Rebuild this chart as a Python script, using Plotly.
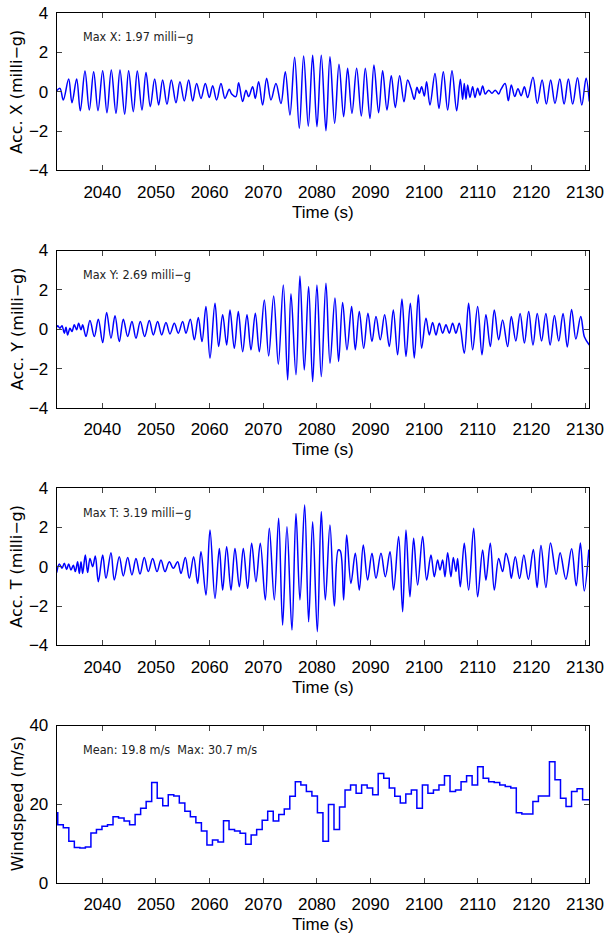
import plotly.graph_objects as go

# ---- data (local peaks / troughs of each record) ----
time_ticks = [2040, 2050, 2060, 2070, 2080, 2090, 2100, 2110, 2120, 2130]
acc_ticks = [-4, -2, 0, 2, 4]
wind_ticks = [0, 20, 40]
x_range = [2031.5, 2130.8]

acc_x_t = [2031.5, 2032.11, 2032.73, 2033.73, 2034.35, 2035.22, 2035.90, 2036.77, 2037.58, 2038.39,
           2039.20, 2040.07, 2040.87, 2041.68, 2042.55, 2043.30, 2044.17, 2044.91, 2045.78, 2046.53,
           2047.40, 2048.15, 2048.95, 2049.76, 2050.51, 2051.25, 2052.06, 2052.87, 2053.74, 2054.48,
           2055.29, 2056.10, 2056.85, 2057.59, 2058.40, 2059.21, 2059.95, 2060.58, 2061.32, 2062.13,
           2062.87, 2063.68, 2064.12, 2064.9, 2065.42, 2066.17, 2066.79, 2067.29, 2068.03, 2068.53,
           2069.15, 2069.90, 2070.64, 2071.45, 2072.38, 2073.31, 2074.12, 2074.99, 2075.86, 2076.73,
           2077.54, 2078.41, 2079.22, 2080.02, 2080.83, 2081.70, 2082.45, 2083.32, 2084.13, 2085.00,
           2085.74, 2086.55, 2087.42, 2088.29, 2089.04, 2089.91, 2090.65, 2091.52, 2092.27, 2093.08,
           2093.88, 2094.63, 2095.44, 2096.25, 2096.93, 2097.55, 2098.17, 2098.67, 2099.10, 2099.54,
           2100.04, 2100.47, 2101.09, 2102.03, 2102.77, 2103.58, 2104.39, 2105.20, 2106.07, 2106.75,
           2107.18, 2107.49, 2107.81, 2108.12, 2108.55, 2109.05, 2109.48, 2109.98, 2110.42, 2110.91,
           2111.41, 2112.03, 2112.65, 2113.27, 2113.90, 2114.3, 2115.1, 2115.70, 2116.26, 2116.9,
           2117.5, 2118.1, 2118.7, 2119.3, 2120.3, 2121.1, 2122.0, 2122.8, 2123.6, 2124.4,
           2125.3, 2126.1, 2126.9, 2127.7, 2128.6, 2129.4, 2130.2, 2130.8]
acc_x_v = [0.05, 0.17, -0.42, 0.64, -0.56, 0.64, -0.97, 1.05, -0.93, 1.02,
           -0.97, 1.07, -1.07, 1.10, -1.10, 1.10, -1.14, 1.07, -1.02, 1.05,
           -0.93, 0.98, -0.76, 0.64, -0.68, 0.60, -0.64, 0.60, -0.56, 0.50,
           -0.47, 0.60, -0.47, 0.42, -0.34, 0.42, -0.30, 0.30, -0.42, 0.42,
           -0.34, 0.12, -0.12, -0.25, 0.46, -0.50, 0.08, -0.25, 0.25, -0.34,
           0.50, -0.68, 0.68, -0.42, 0.42, -0.60, 1.02, -1.19, 1.75, -1.86,
           1.81, -1.75, 1.85, -1.78, 1.85, -1.98, 1.78, -1.61, 1.39, -1.27,
           1.19, -1.10, 1.19, -1.24, 1.19, -1.36, 1.36, -1.07, 1.07, -0.93,
           0.81, -0.80, 0.81, -0.51, 0.59, 0.17, -0.39, 0.22, -0.08, 0.25,
           -0.22, 0.51, -0.68, 0.93, -0.85, 1.02, -0.93, 1.07, -0.97, 0.63,
           -0.39, 0.42, -0.39, 0.34, -0.29, 0.25, -0.29, 0.17, -0.17, 0.29,
           -0.12, 0.08, -0.08, 0.08, -0.12, 0.10, 0.42, -0.46, 0.34, -0.25,
           0.15, -0.20, 0.25, -0.30, 0.73, -0.60, 0.60, -0.63, 0.60, -0.60,
           0.64, -0.63, 0.64, -0.63, 0.71, -0.68, 0.68, -0.50]

acc_y_t = [2031.5, 2031.68, 2032.11, 2032.48, 2032.92, 2033.23, 2033.54, 2033.97, 2034.35, 2034.78,
           2035.22, 2035.59, 2036.03, 2036.34, 2036.96, 2037.70, 2038.51, 2039.26, 2040.07, 2040.81,
           2041.62, 2042.37, 2043.17, 2043.92, 2044.73, 2045.53, 2046.28, 2047.09, 2047.90, 2048.77,
           2049.51, 2050.32, 2051.07, 2051.87, 2052.62, 2053.43, 2054.17, 2054.98, 2055.60, 2056.41,
           2057.16, 2057.90, 2058.59, 2059.33, 2060.08, 2061.01, 2061.69, 2062.44, 2063.19, 2063.81,
           2064.62, 2065.36, 2066.17, 2066.98, 2067.72, 2068.53, 2069.28, 2070.21, 2071.02, 2071.95,
           2072.82, 2073.75, 2074.56, 2075.18, 2076.11, 2076.85, 2077.66, 2078.47, 2079.22, 2080.02,
           2080.83, 2081.70, 2082.45, 2083.38, 2084.06, 2084.81, 2085.62, 2086.49, 2087.17, 2087.92,
           2088.73, 2089.53, 2090.28, 2091.03, 2091.83, 2092.64, 2093.51, 2094.26, 2095.06, 2095.87,
           2096.62, 2097.43, 2098.17, 2098.92, 2099.54, 2100.35, 2100.97, 2101.59, 2102.21, 2102.83,
           2103.46, 2104.08, 2104.70, 2105.32, 2105.94, 2106.56, 2107.49, 2108.30, 2109.05, 2109.98,
           2110.79, 2111.53, 2112.34, 2113.09, 2113.90, 2114.64, 2115.57, 2116.26, 2117.1, 2117.9,
           2118.7, 2119.5, 2120.3, 2121.1, 2121.9, 2122.7, 2123.5, 2124.3, 2125.1, 2125.9,
           2126.7, 2127.5, 2128.3, 2129.2, 2129.9, 2130.8]
acc_y_v = [0.10, 0.17, 0.05, 0.17, -0.20, 0.10, -0.29, 0.05, -0.12, 0.22,
           -0.03, 0.30, -0.03, 0.22, -0.37, 0.44, -0.37, 0.51, -0.68, 0.85,
           -0.46, 0.68, -0.63, 0.51, -0.37, 0.39, -0.46, 0.39, -0.37, 0.44,
           -0.29, 0.39, -0.29, 0.34, -0.24, 0.30, -0.20, 0.39, -0.20, 0.51,
           -0.54, 0.59, -0.63, 1.15, -1.47, 1.32, -0.88, 0.73, -0.80, 0.98,
           -0.97, 0.90, -1.14, 0.73, -1.05, 0.81, -1.14, 1.49, -1.36, 1.69,
           -1.78, 2.25, -2.58, 1.80, -2.32, 2.71, -2.07, 2.17, -2.66, 2.25,
           -2.41, 2.34, -1.73, 1.58, -1.64, 1.36, -1.05, 1.15, -1.05, 0.90,
           -0.97, 0.81, -0.63, 0.64, -0.54, 0.73, -0.88, 0.98, -1.30, 1.53,
           -1.39, 1.32, -1.47, 1.75, -0.97, 0.56, -0.29, 0.34, -0.29, 0.30,
           -0.20, 0.22, -0.20, 0.30, -0.20, 0.30, -1.22, 1.32, -1.05, 1.15,
           -1.30, 0.73, -0.88, 0.98, -0.54, 0.47, -0.88, 0.64, -0.60, 0.80,
           -0.70, 0.90, -0.80, 0.80, -0.60, 0.80, -0.80, 0.70, -0.60, 0.80,
           -0.90, 1.00, -0.50, 0.65, -0.40, -0.80]

acc_t_t = [2031.5, 2031.99, 2032.48, 2032.92, 2033.35, 2033.73, 2034.16, 2034.60, 2034.97, 2035.40,
           2035.72, 2036.03, 2036.34, 2036.83, 2037.27, 2037.70, 2038.20, 2038.70, 2039.26, 2040.07,
           2040.69, 2041.62, 2042.24, 2043.17, 2043.92, 2044.73, 2045.53, 2046.28, 2047.03, 2047.83,
           2048.58, 2049.39, 2050.20, 2050.94, 2051.69, 2052.50, 2053.24, 2054.05, 2054.67, 2055.48,
           2056.22, 2057.03, 2057.78, 2058.40, 2059.33, 2060.08, 2061.01, 2061.82, 2062.44, 2063.19,
           2063.99, 2064.74, 2065.55, 2066.29, 2067.10, 2067.85, 2068.65, 2069.46, 2070.39, 2071.14,
           2072.07, 2072.88, 2073.62, 2074.43, 2075.36, 2076.11, 2076.85, 2077.73, 2078.47, 2079.22,
           2080.09, 2080.83, 2081.58, 2082.45, 2083.26, 2084.00, 2084.38, 2085.00, 2085.56, 2086.36,
           2087.17, 2087.92, 2088.66, 2089.47, 2090.28, 2091.03, 2091.96, 2092.77, 2093.64, 2094.32,
           2095.25, 2096.00, 2096.62, 2097.36, 2098.05, 2098.79, 2099.73, 2100.47, 2101.28, 2101.90,
           2102.52, 2102.96, 2103.46, 2103.89, 2104.39, 2105.01, 2105.44, 2105.94, 2106.25, 2106.75,
           2107.49, 2108.30, 2109.24, 2109.98, 2110.91, 2111.53, 2112.34, 2113.09, 2113.90, 2114.64,
           2115.26, 2115.89, 2116.26, 2117.0, 2117.8, 2118.6, 2119.43, 2120.36, 2121.07, 2121.79,
           2122.71, 2123.57, 2124.64, 2125.36, 2126.43, 2127.50, 2128.36, 2129.14, 2129.86, 2130.71]
acc_t_v = [-0.30, 0.14, -0.08, 0.17, -0.14, 0.14, -0.17, 0.08, -0.25, 0.25,
           -0.34, 0.25, -0.34, 0.59, -0.30, 0.42, 0.00, 0.54, -0.76, 0.59,
           -0.59, 0.71, -0.68, 0.51, -0.47, 0.47, -0.42, 0.42, -0.37, 0.47,
           -0.25, 0.42, -0.25, 0.34, -0.25, 0.25, -0.08, 0.25, -0.34, 0.47,
           -0.59, 0.51, -0.85, 0.76, -1.44, 1.86, -1.61, 0.93, -1.19, 1.02,
           -1.19, 0.93, -1.02, 0.93, -1.10, 1.19, -0.76, 1.19, -1.69, 1.95,
           -1.69, 2.46, -2.97, 2.03, -3.22, 2.71, -1.69, 3.14, -2.80, 2.29,
           -3.30, 2.80, -1.69, 2.12, -2.00, 0.85, 0.80, -1.69, 1.61, -0.85,
           0.68, -1.19, 1.10, -0.68, 0.68, -0.59, 0.68, -0.51, 0.76, -1.19,
           1.53, -2.29, 1.86, -1.53, 1.44, -0.93, 1.53, -0.68, 0.59, -0.51,
           0.34, -0.17, 0.34, -0.51, 0.71, -0.51, 0.47, -0.25, 0.42, -1.02,
           1.19, -1.19, 1.95, -1.53, 0.85, -0.68, 1.19, -1.19, 0.42, -0.25,
           0.68, 0.08, -0.59, 0.50, -0.60, 0.60, -0.64, 0.87, -1.06, 1.08,
           -1.06, 1.21, -0.39, 0.71, -0.64, 0.91, -0.97, 1.21, -1.23, 0.87]

# windspeed: step start times and the value held until the next step
wind_t = [2031.45,
          2031.70, 2032.73, 2033.76, 2034.79, 2035.82, 2036.85, 2037.88, 2038.91, 2039.94, 2040.97,
          2042.00, 2043.03, 2044.06, 2045.09, 2046.12, 2047.15, 2048.18, 2049.21, 2050.24, 2051.27,
          2052.30, 2053.33, 2054.36, 2055.39, 2056.42, 2057.45, 2058.48, 2059.51, 2060.54, 2061.57,
          2062.60, 2063.63, 2064.66, 2065.69, 2066.72, 2067.75, 2068.78, 2069.81, 2070.84, 2071.87,
          2072.90, 2073.93, 2074.96, 2075.99, 2077.02, 2078.05, 2079.08, 2080.11, 2081.14, 2082.17,
          2083.20, 2084.23, 2085.26, 2086.29, 2087.32, 2088.35, 2089.38, 2090.41, 2091.44, 2092.47,
          2093.50, 2094.53, 2095.56, 2096.59, 2097.62, 2098.65, 2099.68, 2100.71, 2101.74, 2102.77,
          2103.80, 2104.83, 2105.86, 2106.89, 2107.92, 2108.95, 2109.98, 2111.01, 2112.04, 2113.07,
          2114.10, 2115.13, 2116.16, 2117.19, 2118.22, 2119.25, 2120.28, 2121.31, 2122.34, 2123.37,
          2124.40, 2125.43, 2126.46, 2127.49, 2128.52, 2129.55, 2130.58,
          2130.8]
wind_v = [17.8,
          14.8, 14.0, 10.6, 9.0, 8.9, 9.1, 12.7, 13.6, 14.4, 14.8,
          16.8, 16.5, 15.7, 14.8, 17.4, 19.0, 20.7, 25.5, 21.5, 19.6,
          22.4, 22.1, 20.3, 18.2, 16.8, 15.3, 13.2, 9.6, 10.9, 10.4,
          15.8, 13.6, 13.2, 12.6, 9.8, 12.2, 13.6, 15.9, 18.2, 15.7,
          17.4, 18.8, 22.0, 25.7, 24.9, 23.2, 22.1, 17.8, 10.6, 19.9,
          13.6, 19.3, 23.6, 24.9, 22.8, 24.9, 24.1, 22.4, 27.8, 26.6,
          24.1, 22.0, 20.3, 22.6, 23.6, 19.0, 24.9, 22.8, 23.6, 24.9,
          27.2, 23.2, 23.6, 25.7, 27.2, 24.9, 29.5, 26.6, 25.7, 25.5,
          24.9, 24.5, 24.1, 17.8, 17.5, 17.5, 20.7, 22.1, 22.1, 30.8,
          26.2, 21.5, 19.4, 23.2, 23.9, 21.1, 21.1,
          21.1]

# (x, y, y title, info text, y range, y ticks, line shape)
panels = [
    (acc_x_t, acc_x_v, "Acc. X (milli\u2212g)", "Max X: 1.97 milli\u2212g", [-4, 4], acc_ticks, "spline"),
    (acc_y_t, acc_y_v, "Acc. Y (milli\u2212g)", "Max Y: 2.69 milli\u2212g", [-4, 4], acc_ticks, "spline"),
    (acc_t_t, acc_t_v, "Acc. T (milli\u2212g)", "Max T: 3.19 milli\u2212g", [-4, 4], acc_ticks, "spline"),
    (wind_t, wind_v, "Windspeed (m/s)", "Mean: 19.8 m/s  Max: 30.7 m/s", [0, 40], wind_ticks, "hv"),
]

W, H = 605, 940
left, right = 56.7, 589.3
tops = [13, 250.5, 488, 725.5]
ph = 157.4
tick_font = dict(family="Arial, Liberation Sans, sans-serif", size=17, color="black")

fig = go.Figure()
annotations = []
layout = dict(width=W, height=H, margin=dict(l=0, r=0, t=0, b=0, autoexpand=False),
              paper_bgcolor="white", plot_bgcolor="white", showlegend=False)

for i, (xs, ys, ytitle, info, yr, yt, shape) in enumerate(panels):
    n = i + 1
    sfx = "" if n == 1 else str(n)
    top, bot = tops[i], tops[i] + ph
    fig.add_trace(go.Scatter(x=xs, y=ys, mode="lines",
                             line=dict(color="#0000ff", width=1.5, shape=shape, smoothing=1.0),
                             xaxis="x" + sfx, yaxis="y" + sfx, hoverinfo="skip"))
    layout["xaxis" + sfx] = dict(domain=[left / W, right / W], anchor="y" + sfx,
                                 range=x_range, tickvals=time_ticks, ticks="inside", ticklen=5,
                                 showline=True, linecolor="black", linewidth=1, mirror="ticks",
                                 showgrid=False, zeroline=False, tickfont=tick_font,
                                 ticklabelstandoff=6, automargin=False)
    layout["yaxis" + sfx] = dict(domain=[1 - bot / H, 1 - top / H], anchor="x" + sfx,
                                 range=yr, tickvals=yt, ticks="inside", ticklen=5,
                                 showline=True, linecolor="black", linewidth=1, mirror="ticks",
                                 showgrid=False, zeroline=False, tickfont=tick_font,
                                 ticklabelstandoff=4, automargin=False)
    annotations.append(dict(text=ytitle, textangle=-90, x=17 / W, y=1 - (top + ph / 2) / H,
                            xref="paper", yref="paper", showarrow=False,
                            xanchor="center", yanchor="middle",
                            font=dict(family="DejaVu Sans, sans-serif", size=16, color="black")))
    annotations.append(dict(text="Time (s)", x=(left + right) / 2 / W, y=1 - (top + 199) / H,
                            xref="paper", yref="paper", showarrow=False,
                            xanchor="center", yanchor="middle",
                            font=dict(family="Arial, Liberation Sans, sans-serif", size=17, color="black")))
    annotations.append(dict(text=info, x=81 / W, y=1 - (top + 24) / H, xanchor="left",
                            yanchor="middle", xref="paper", yref="paper", showarrow=False,
                            font=dict(family="Liberation Sans Narrow, Arial Narrow, DejaVu Sans Condensed, Arial, sans-serif",
                                      size=12.5, color="#222222")))

layout["annotations"] = annotations
fig.update_layout(**layout)
# drop the page's default 8px body margin so the figure sits at the window's corner
fig.write_html("out.html", config={"displayModeBar": False},
               post_script="document.body.style.margin='0px';")
